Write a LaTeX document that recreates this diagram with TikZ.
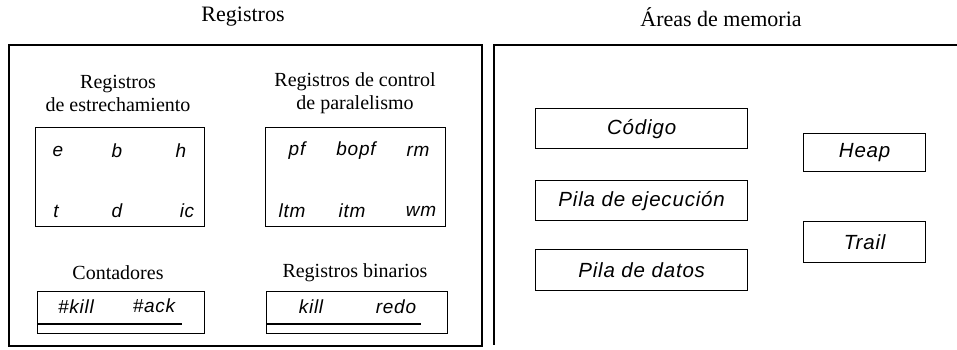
\documentclass[tikz,border=0pt]{standalone}
\usepackage{fontspec}
\setmainfont{Liberation Serif}
\newfontfamily\itemfont[LetterSpace=4]{Liberation Sans}
\begin{document}
\begin{tikzpicture}[x=1pt,y=-1pt,
  title/.style={font=\fontsize{22}{24}\selectfont},
  sublabel/.style={font=\fontsize{20}{23}\selectfont, align=center},
  panel/.style={draw, line width=1.6pt, inner sep=0pt},
  regbox/.style={draw, line width=1.3pt, inner sep=0pt, anchor=north west},
  item/.style={font=\itemfont\fontsize{19}{21}\selectfont\itshape, inner sep=1pt},
  memitem/.style={font=\itemfont\fontsize{20.5}{23}\selectfont\itshape, inner sep=1pt}]
\useasboundingbox (0,0) rectangle (957,350);

% titles
\node[title] (t1) at (243,17) {Registros};
\node[title] (t2) at (721,17) {Áreas de memoria};

% left panel
\node[panel, anchor=north west, minimum width=473pt, minimum height=301pt] (pl) at (8,44) {};

% right panel (top and left edges only)
\coordinate (rtr) at (957,45);
\coordinate (rtl) at (494,45);
\coordinate (rbl) at (494,345);
\draw[line width=1.6pt] (rtr) -- (rtl) -- (rbl);

% Registros de estrechamiento
\node[sublabel] (l1) at (118,93) {Registros\\de estrechamiento};
\node[regbox, minimum width=169pt, minimum height=99pt] (b1) at (35,127) {};
\node[item] (e) at (58,151) {e};
\node[item] (b) at (117,151) {b};
\node[item] (h) at (181,151) {h};
\node[item] (t) at (56,211) {t};
\node[item] (d) at (117,211) {d};
\node[item] (ic) at (187,211) {ic};

% Registros de control de paralelismo
\node[sublabel] (l2) at (355,93) {Registros de control\\de paralelismo};
\node[regbox, minimum width=180pt, minimum height=99pt] (b2) at (265,127) {};
\node[item] (pf) at (297,151) {pf};
\node[item] (bopf) at (356,151) {bopf};
\node[item] (rm) at (418,151) {rm};
\node[item] (ltm) at (292,211) {ltm};
\node[item] (itm) at (352,211) {itm};
\node[item] (wm) at (421,211) {wm};

% Contadores
\node[sublabel] (l3) at (118,273) {Contadores};
\node[regbox, minimum width=167pt, minimum height=42pt] (b3) at (37,291) {};
\node[item] (kill1) at (76,307) {\#kill};
\node[item] (ack) at (154,306) {\#ack};
\coordinate (u1a) at (37,324);
\coordinate (u1b) at (182,324);
\draw[line width=1.3pt] (u1a) -- (u1b);

% Registros binarios
\node[sublabel] (l4) at (355,273) {Registros binarios};
\node[regbox, minimum width=181pt, minimum height=42pt] (b4) at (266,291) {};
\node[item] (kill2) at (311,307) {kill};
\node[item] (redo) at (396,307) {redo};
\coordinate (u2a) at (266,324);
\coordinate (u2b) at (421,324);
\draw[line width=1.3pt] (u2a) -- (u2b);

% memory areas
\node[regbox, minimum width=212pt, minimum height=40pt] (cod) at (535,108) {};
\node[memitem] at (cod.center) {Código};
\node[regbox, minimum width=212pt, minimum height=40pt] (pej) at (535,180) {};
\node[memitem] at (pej.center) {Pila de ejecución};
\node[regbox, minimum width=212pt, minimum height=41pt] (pdat) at (535,249) {};
\node[memitem] at (pdat.center) {Pila de datos};
\node[regbox, minimum width=122pt, minimum height=38pt] (heap) at (803,133) {};
\node[memitem] at (heap.center) {Heap};
\node[regbox, minimum width=122pt, minimum height=41pt] (trail) at (803,221) {};
\node[memitem] at (trail.center) {Trail};
\end{tikzpicture}
\end{document}
